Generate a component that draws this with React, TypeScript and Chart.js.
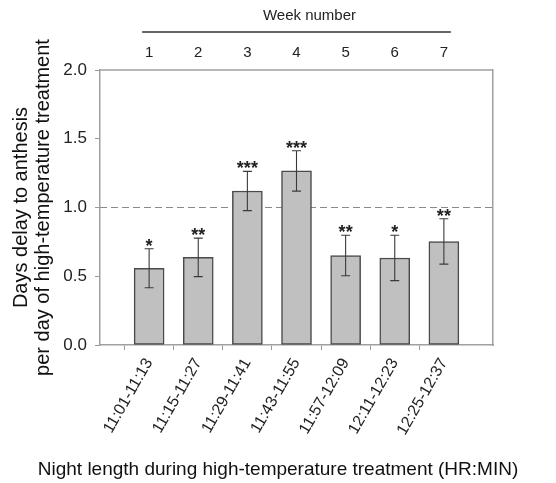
import { useEffect, useRef } from 'react';
import { Chart, registerables } from 'chart.js';

Chart.register(...registerables);

const categories = ['11:01-11:13', '11:15-11:27', '11:29-11:41', '11:43-11:55', '11:57-12:09', '12:11-12:23', '12:25-12:37'];
const weekNumbers = ['1', '2', '3', '4', '5', '6', '7'];
const values = [0.558, 0.637, 1.12, 1.266, 0.651, 0.633, 0.753];
const errors = [0.142, 0.14, 0.143, 0.147, 0.147, 0.165, 0.165];
const significance = ['*', '**', '***', '***', '**', '*', '**'];
const referenceLine = 1.0;
const yMin = 0;
const yMax = 2;
const yStep = 0.5;
const topTitle = 'Week number';

const FONT = '"Liberation Sans", Arial, Helvetica, sans-serif';

const decorPlugin = {
  id: 'decor',
  beforeDatasetsDraw(chart: any) {
    const { ctx, chartArea: a, scales } = chart;
    const yr = scales.y.getPixelForValue(referenceLine);
    ctx.save();
    ctx.strokeStyle = '#8a8a8a';
    ctx.lineWidth = 1.2;
    ctx.setLineDash([7, 4]);
    ctx.beginPath();
    ctx.moveTo(a.left, yr);
    ctx.lineTo(a.right, yr);
    ctx.stroke();
    ctx.restore();

    ctx.save();
    ctx.strokeStyle = '#a0a0a0';
    ctx.lineWidth = 1.5;
    ctx.beginPath();
    ctx.moveTo(a.left, a.top);
    ctx.lineTo(a.right, a.top);
    ctx.stroke();
    ctx.restore();

    const x2 = scales.x2;
    const xs = x2.getPixelForTick(1) - 7;
    const xe = x2.getPixelForTick(weekNumbers.length) + 7;
    ctx.save();
    ctx.strokeStyle = '#333';
    ctx.lineWidth = 1.3;
    ctx.beginPath();
    ctx.moveTo(xs, x2.top + 32);
    ctx.lineTo(xe, x2.top + 32);
    ctx.stroke();
    ctx.fillStyle = '#222';
    ctx.font = `15px ${FONT}`;
    ctx.textAlign = 'center';
    ctx.textBaseline = 'middle';
    ctx.fillText(topTitle, (xs + xe) / 2 + 13, x2.top + 16);
    ctx.restore();
  },
  afterDatasetsDraw(chart: any) {
    const { ctx, scales } = chart;
    const meta = chart.getDatasetMeta(0);
    const y = scales.y;
    ctx.save();
    ctx.strokeStyle = '#3a3a3a';
    ctx.lineWidth = 1.1;
    values.forEach((v, i) => {
      const el = meta.data[i + 1];
      if (!el) return;
      const x = el.x;
      const yt = y.getPixelForValue(v + errors[i]);
      const yb = y.getPixelForValue(v - errors[i]);
      ctx.beginPath();
      ctx.moveTo(x, yt);
      ctx.lineTo(x, yb);
      ctx.moveTo(x - 4.5, yt);
      ctx.lineTo(x + 4.5, yt);
      ctx.moveTo(x - 4.5, yb);
      ctx.lineTo(x + 4.5, yb);
      ctx.stroke();
    });
    ctx.fillStyle = '#222';
    ctx.font = `bold 18px ${FONT}`;
    ctx.textAlign = 'center';
    ctx.textBaseline = 'alphabetic';
    values.forEach((v, i) => {
      const el = meta.data[i + 1];
      if (!el) return;
      const yt = y.getPixelForValue(v + errors[i]);
      ctx.fillText(significance[i], el.x, yt + 3);
    });
    ctx.restore();
  },
};

export default function App() {
  const ref = useRef<HTMLCanvasElement | null>(null);
  useEffect(() => {
    if (!ref.current) return;
    Chart.defaults.font.family = FONT;
    const paddedLabels = ['', ...categories, ''];
    const chart = new Chart(ref.current, {
      type: 'bar',
      data: {
        labels: paddedLabels,
        datasets: [
          {
            data: [null, ...values, null],
            backgroundColor: '#c0c0c0',
            borderColor: '#4a4a4a',
            borderWidth: 1.5,
            borderSkipped: false,
            barThickness: 30,
          },
        ],
      },
      options: {
        responsive: false,
        animation: false,
        layout: { padding: 0 },
        plugins: {
          legend: { display: false },
          tooltip: { enabled: false },
          title: {
            display: true,
            position: 'bottom',
            text: 'Night length during high-temperature treatment (HR:MIN)',
            color: '#111',
            font: { size: 19, weight: 'normal', family: FONT },
            padding: { top: 0, bottom: 2 },
          },
        },
        scales: {
          x: {
            type: 'category',
            offset: false,
            grid: {
              drawOnChartArea: false,
              tickLength: 5,
              color: '#999',
              tickColor: (c: any) => (c.index === 0 || c.index === paddedLabels.length - 1 ? 'rgba(0,0,0,0)' : '#999'),
            },
            border: { color: '#a0a0a0', width: 1.5 },
            ticks: {
              autoSkip: false,
              minRotation: 60,
              maxRotation: 60,
              color: '#222',
              font: { size: 16 },
              padding: 5,
            },
            afterFit: (s: any) => {
              s.height = 113.2;
            },
          },
          x2: {
            type: 'category',
            position: 'top',
            display: true,
            labels: ['', ...weekNumbers, ''],
            offset: false,
            grid: { display: false },
            border: { display: false },
            ticks: { autoSkip: false, maxRotation: 0, color: '#222', font: { size: 15 }, padding: 0 },
            afterFit: (s: any) => {
              s.height = 70;
            },
          },
          y: {
            min: yMin,
            max: yMax,
            ticks: {
              stepSize: yStep,
              color: '#222',
              font: { size: 17 },
              padding: 8,
              callback: (v: any) => Number(v).toFixed(1),
            },
            grid: { drawOnChartArea: false, tickLength: 5, color: '#999' },
            border: { color: '#a0a0a0', width: 1.5 },
            title: {
              display: true,
              text: ['Days delay to anthesis', 'per day of high-temperature treatment'],
              color: '#111',
              font: { size: 20, lineHeight: 1.1 },
              padding: { top: 10, bottom: 0 },
            },
            afterFit: (s: any) => {
              s.width = 100;
            },
          },
          y2: {
            position: 'right',
            display: true,
            min: yMin,
            max: yMax,
            ticks: { display: false },
            grid: { drawOnChartArea: false, drawTicks: false },
            border: { color: '#a0a0a0', width: 1.5 },
            afterFit: (s: any) => {
              s.width = 63;
            },
          },
        },
      },
      plugins: [decorPlugin],
    } as any);
    return () => chart.destroy();
  }, []);
  return (
    <div style={{ position: 'absolute', left: 0, top: 0, width: 556, height: 483 }}>
      <canvas ref={ref} width={556} height={483} />
    </div>
  );
}
